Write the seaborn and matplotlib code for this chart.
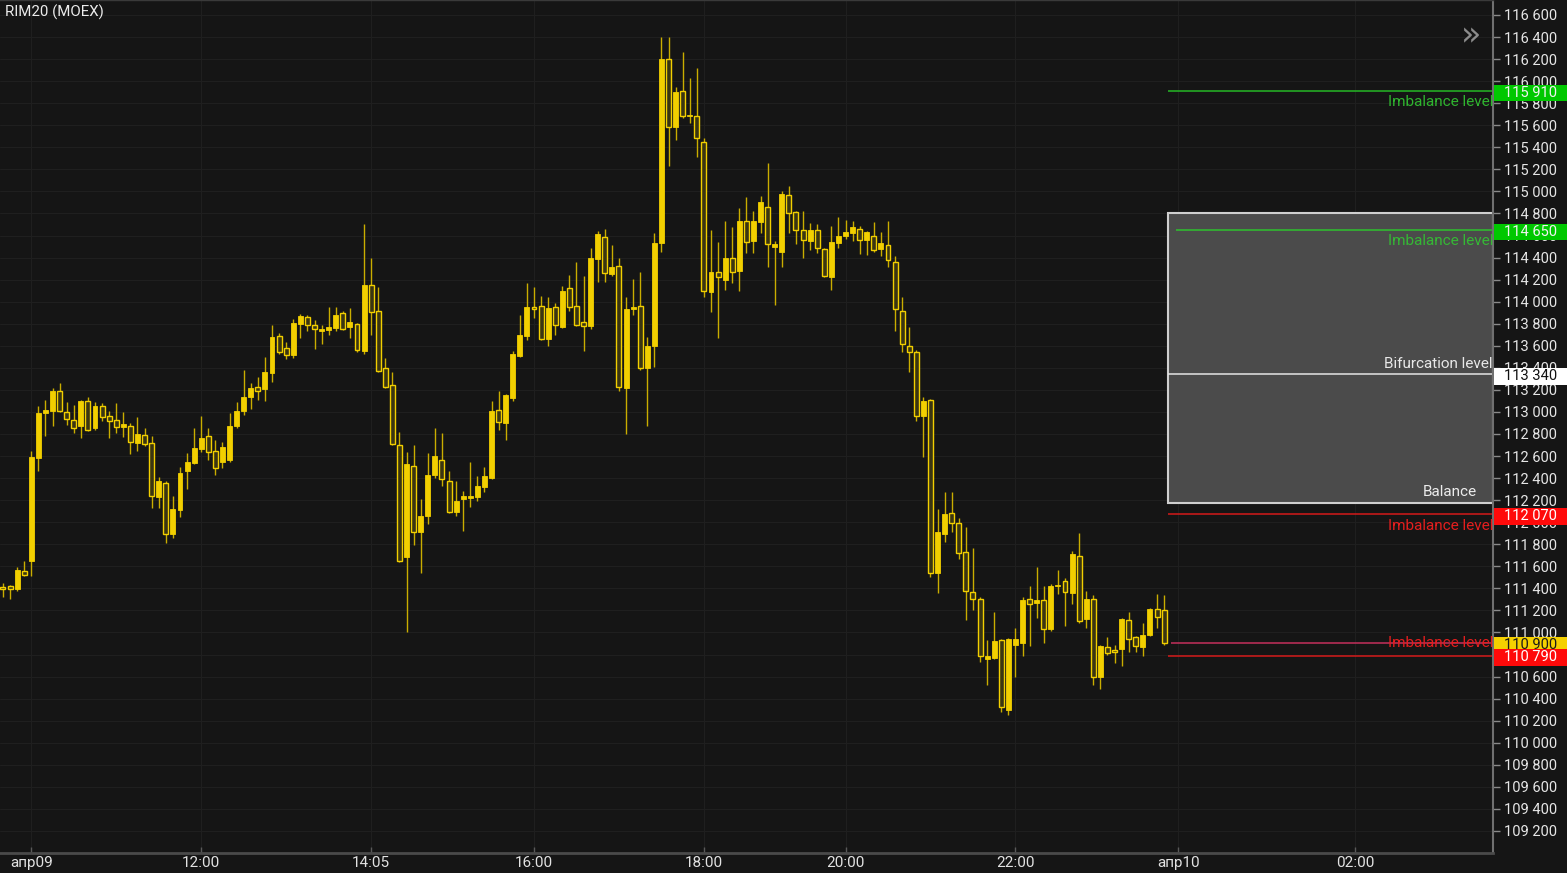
import numpy as np
import pandas as pd
import matplotlib
matplotlib.use("Agg")
import matplotlib.pyplot as plt
import matplotlib.transforms as mtransforms
from matplotlib.patches import Rectangle
from matplotlib.ticker import FuncFormatter
import seaborn as sns

# 5-minute candles RIM20
opens = [
    111410, 111420, 111390, 111560, 111650, 112580, 112990, 113010, 113190, 113000,
    112930, 112870, 113100, 112850, 113050, 112960, 112930, 112860, 112870, 112720,
    112790, 112720, 112230, 112360, 111890, 112110, 112460, 112540, 112660, 112780,
    112650, 112550, 112560, 112870, 113010, 113140, 113230, 113210, 113350, 113690,
    113580, 113520, 113800, 113860, 113790, 113730, 113740, 113760, 113900, 113770,
    113800, 113550, 114150, 113920, 113400, 113240, 112700, 111680, 112510, 111910,
    112060, 112430, 112560, 112370, 112090, 112210, 112220, 112230, 112320, 112400,
    113020, 112900, 113130, 113510, 113690, 113950, 113960, 113660, 113950, 113770,
    114120, 113960, 113820, 113780, 114390, 114590, 114250, 114320, 113220, 113930,
    113960, 113400, 113600, 114530, 116200, 115580, 115910, 115680, 115680, 115450,
    114090, 114270, 114200, 114400, 114280, 114730, 114550, 114720, 114860, 114500,
    114450, 114970, 114810, 114650, 114550, 114650, 114480, 114220, 114530, 114600,
    114620, 114660, 114560, 114600, 114480, 114510, 114360, 113920, 113600, 113540,
    112960, 113110, 111540, 111890, 112080, 111990, 111730, 111370, 111300, 110760,
    110770, 110930, 110300, 110890, 110900, 111300, 111270, 111290, 111030, 111420,
    111470, 111360, 111690, 111120, 111300, 110600, 110870, 110840, 110850, 111110,
    110960, 110870, 110980, 111210, 111200,
]
highs = [
    111450, 111430, 111590, 111650, 112650, 113050, 113110, 113220, 113260, 113090,
    113060, 113110, 113140, 113090, 113080, 113010, 113080, 113000, 112900, 112950,
    112850, 112780, 112410, 112370, 112240, 112500, 112630, 112850, 112960, 112850,
    112750, 112730, 112990, 113090, 113380, 113260, 113320, 113500, 113790, 113720,
    113630, 113840, 113890, 113880, 113830, 113790, 113950, 113950, 113920, 113940,
    113810, 114700, 114400, 114130, 113490, 113360, 112820, 112640, 112700, 112210,
    112630, 112850, 112810, 112460, 112370, 112280, 112550, 112420, 112500, 113100,
    113190, 113160, 113550, 113880, 114170, 114130, 114050, 114040, 113990, 114140,
    114240, 114360, 114230, 114490, 114640, 114660, 114510, 114400, 114040, 114210,
    114270, 113680, 114620, 116400, 116400, 115950, 116260, 116030, 116120, 115480,
    114650, 114540, 114730, 114680, 114850, 114950, 114820, 114960, 115260, 114550,
    115000, 115050, 114820, 114820, 114710, 114700, 114490, 114690, 114770, 114740,
    114730, 114690, 114640, 114720, 114630, 114730, 114410, 114040, 113770, 113560,
    113140, 113120, 112120, 112270, 112270, 112040, 111960, 111770, 111320, 110930,
    111190, 110940, 110950, 111040, 111320, 111420, 111590, 111420, 111440, 111570,
    111490, 111740, 111900, 111380, 111340, 110890, 110960, 110890, 111130, 111190,
    110970, 111090, 111220, 111350, 111340,
]
lows = [
    111320, 111300, 111380, 111510, 111510, 112460, 112780, 112870, 113000, 112880,
    112810, 112760, 112830, 112840, 112920, 112760, 112810, 112770, 112620, 112650,
    112690, 112130, 112130, 111810, 111860, 112050, 112300, 112530, 112640, 112560,
    112430, 112490, 112550, 112850, 112970, 113030, 113110, 113100, 113270, 113530,
    113480, 113490, 113670, 113730, 113570, 113620, 113700, 113730, 113740, 113670,
    113540, 113530, 113700, 113360, 113220, 112700, 111640, 111000, 111790, 111540,
    111980, 112400, 112330, 112080, 112060, 111920, 112140, 112190, 112270, 112390,
    112840, 112750, 113100, 113500, 113650, 113850, 113650, 113600, 113700, 113760,
    113920, 113780, 113550, 113750, 114180, 114180, 114230, 113190, 112800, 113880,
    113380, 112870, 113410, 114450, 115230, 115470, 115670, 115620, 115310, 114040,
    113910, 113670, 114110, 114170, 114100, 114440, 114440, 114620, 114310, 113970,
    114310, 114620, 114520, 114400, 114470, 114440, 114220, 114110, 114490, 114570,
    114550, 114430, 114420, 114450, 114410, 114310, 113730, 113540, 113360, 112920,
    112590, 111500, 111360, 111820, 111910, 111670, 111110, 111200, 110730, 110520,
    110760, 110280, 110250, 110600, 110790, 110880, 111130, 110900, 111010, 111350,
    111060, 111260, 111090, 111040, 110520, 110490, 110800, 110720, 110700, 110820,
    110820, 110790, 110970, 111040, 110890,
]
closes = [
    111390, 111390, 111570, 111520, 112590, 112990, 113020, 113190, 113010, 112940,
    112850, 113100, 112840, 113050, 112950, 112920, 112860, 112890, 112730, 112800,
    112710, 112240, 112370, 111890, 112120, 112450, 112550, 112670, 112760, 112640,
    112490, 112680, 112870, 113010, 113140, 113220, 113190, 113360, 113680, 113540,
    113520, 113810, 113870, 113790, 113750, 113750, 113770, 113880, 113750, 113820,
    113560, 114150, 113910, 113370, 113230, 112710, 111650, 112530, 111910, 112060,
    112430, 112600, 112390, 112090, 112190, 112240, 112240, 112330, 112420, 113010,
    112910, 113150, 113530, 113700, 113950, 113930, 113660, 113940, 113790, 114100,
    113950, 113790, 113780, 114400, 114610, 114260, 114310, 113230, 113930, 113950,
    113400, 113600, 114530, 116200, 115580, 115900, 115680, 115690, 115480, 114100,
    114270, 114220, 114400, 114270, 114730, 114540, 114730, 114900, 114520, 114520,
    114980, 114800, 114650, 114560, 114650, 114490, 114230, 114540, 114600, 114630,
    114680, 114560, 114630, 114470, 114530, 114380, 113930, 113620, 113540, 112960,
    113100, 111540, 111910, 112070, 111990, 111720, 111380, 111300, 110790, 110790,
    110920, 110320, 110940, 110940, 111290, 111260, 111290, 111030, 111420, 111430,
    111370, 111710, 111100, 111300, 110600, 110880, 110810, 110820, 111120, 110940,
    110880, 110980, 111210, 111140, 110900,
]

tick_pos = [4, 28, 52, 75, 99, 119, 143, 166, 191]
tick_labels = ["апр09", "12:00", "14:05", "16:00", "18:00", "20:00", "22:00", "апр10", "02:00"]
price_ticks = list(range(109200, 116601, 200))

# levels drawn to the right of the last candle
level_prices = [115910, 114650, 113340, 112070, 110900, 110790]
level_colors = ["#25b825", "#2ec22e", "#e6e6e6", "#d41a1a", "#c4305c", "#d41a1a"]
level_starts = [164.5, 165.7, 164.5, 164.5, 165.0, 164.5]
level_texts = ["Imbalance level", "Imbalance level", "Bifurcation level",
               "Imbalance level", "Imbalance level", ""]
level_text_colors = ["#2fb52f", "#35b835", "#e8e8e8", "#e41e1e", "#e41e1e", "#e41e1e"]
level_text_offsets = [-8, -8, 7.5, -8, 0, 0]

balance_top = 114800
balance_bottom = 112170

marker_prices = [115910, 114650, 113340, 112070, 110900, 110790]
marker_faces = ["#00c800", "#00c800", "#ffffff", "#ff0a0a", "#f5d000", "#ff0a0a"]
marker_text_colors = ["#f2f2f2", "#f2f2f2", "#111111", "#ffffff", "#1a1a1a", "#ffffff"]

bg = "#151515"
gold = "#f2cf00"
hollow_face = "#3a3512"
wick_color = "#c9ad00"

df = pd.DataFrame({"open": opens, "high": highs, "low": lows, "close": closes})
df["idx"] = np.arange(len(df))
up = df["close"] >= df["open"]

sns.set_theme(style="darkgrid", rc={
    "axes.facecolor": bg, "figure.facecolor": bg, "grid.color": "#1f1f1f",
    "grid.linewidth": 0.8, "axes.edgecolor": "#5a5a5a",
})
plt.rcParams["font.family"] = ["Roboto", "DejaVu Sans"]

fig = plt.figure(figsize=(15.67, 8.73), dpi=100)
ax = fig.add_axes([0, 20 / 873, 1493 / 1567, 853 / 873])

xmin, xmax = -0.42, 210.45
ax.set_xlim(xmin, xmax)
ax.set_ylim(109000, 116736)

# candles
ax.vlines(df["idx"], df["low"], df["high"], color=wick_color, lw=1, zorder=3)
d_up = df[up]
d_dn = df[~up]
ax.bar(d_up["idx"], d_up["close"] - d_up["open"], bottom=d_up["open"], width=0.7,
       color=gold, edgecolor=gold, lw=0.6, zorder=4)
ax.bar(d_dn["idx"], d_dn["open"] - d_dn["close"], bottom=d_dn["close"], width=0.7,
       color=hollow_face, edgecolor=gold, lw=1.0, zorder=4)

# balance zone
ax.add_patch(Rectangle((164.5, balance_bottom), xmax - 164.5, balance_top - balance_bottom,
                       facecolor="#4b4b4b", edgecolor="#cfcfcf", lw=1.5, zorder=1.5))
ax.text(208.2, balance_bottom + 100, "Balance", ha="right", va="center",
        color="#ececec", fontsize=11, zorder=6)

trans = mtransforms.blended_transform_factory(ax.transAxes, ax.transData)
for price, col, start, txt, tcol, off in zip(level_prices, level_colors, level_starts,
                                              level_texts, level_text_colors, level_text_offsets):
    ax.hlines(price, start, xmax, color=col, lw=1.1, zorder=2)
    if txt:
        ax.annotate(txt, xy=(1.0, price), xycoords=trans, xytext=(0, off),
                    textcoords="offset points", ha="right", va="center",
                    color=tcol, fontsize=11, zorder=6, annotation_clip=False)


def price_fmt(v, pos=None):
    return f"{int(round(v)):,}".replace(",", " ")


# price markers on the right scale
box_w = (1567 - 1494) / 1493
for price, face, tcol in zip(marker_prices, marker_faces, marker_text_colors):
    ax.add_patch(Rectangle((1.0008, price - 92), box_w, 150, transform=trans,
                           facecolor=face, edgecolor="none", clip_on=False, zorder=10))
    ax.text(1.0 + 11 / 1493, price - 16, price_fmt(price), transform=trans, ha="left",
            va="center", color=tcol, fontsize=10.5, zorder=11, clip_on=False)

# axes styling
ax.yaxis.tick_right()
ax.set_yticks(price_ticks)
ax.yaxis.set_major_formatter(FuncFormatter(price_fmt))
ax.tick_params(axis="y", direction="out", length=5, width=1, color="#8a8a8a",
               labelcolor="#e6e6e6", labelsize=10.5, pad=3, right=True, left=False)
ax.set_xticks(tick_pos)
ax.set_xticklabels(tick_labels)
ax.tick_params(axis="x", direction="in", length=4.5, width=1, color="#5a5a5a",
               labelcolor="#e2e2e2", labelsize=11, pad=2, bottom=True)
ax.grid(True, color="#1f1f1f", lw=0.8)
ax.set_axisbelow(True)
ax.spines["left"].set_visible(False)
ax.spines["right"].set_color("#707070")
ax.spines["right"].set_linewidth(1.5)
ax.spines["bottom"].set_color("#4a4a4a")
ax.spines["bottom"].set_linewidth(2)
ax.spines["top"].set_color("#3a3a3a")
ax.spines["top"].set_linewidth(1)

ax.text(1471 / 1493, 1 - 36 / 853, "»", transform=ax.transAxes, ha="center", va="center",
        color="#8c8c8c", fontsize=24, family=["DejaVu Sans"], zorder=6)
fig.text(5 / 1567, 1 - 12 / 873, "RIM20 (MOEX)", ha="left", va="center",
         color="#ececec", fontsize=10.8)

fig.savefig("out.png", dpi=100, facecolor=bg)
